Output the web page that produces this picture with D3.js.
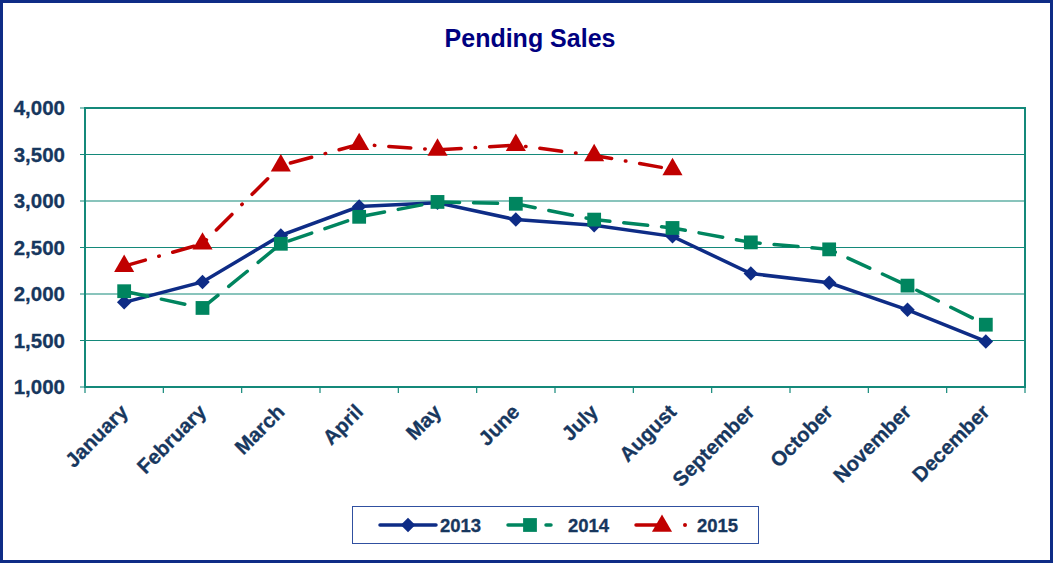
<!DOCTYPE html>
<html>
<head>
<meta charset="utf-8">
<script src="https://cdn.jsdelivr.net/npm/d3@7"></script>
<style>
  body { margin: 0; background: #fff; }
  svg { display: block; font-family: Arial, "Liberation Sans", sans-serif; }
</style>
</head>
<body>
<div id="chart"></div>
<script>
var months = ["January", "February", "March", "April", "May", "June", "July",
    "August", "September", "October", "November", "December"];
var sales2013 = [1910, 2130, 2630, 2940, 2980, 2800, 2740, 2620, 2220, 2120, 1830, 1490];
var sales2014 = [2030, 1850, 2540, 2830, 2990, 2970, 2800, 2710, 2555, 2480, 2090, 1670];
var sales2015 = [2300, 2540, 3380, 3610, 3550, 3600, 3490, 3340];
var yTicks = [1000, 1500, 2000, 2500, 3000, 3500, 4000];

var width = 1053, height = 563;
var margin = { top: 108, right: 28, bottom: 176, left: 85 };
var textColor = "#17375E", gridColor = "#14897A";

// diamond = square turned 45 degrees
var series = [
    { name: "2013", values: sales2013, color: "#0E2C86", dash: null, symbol: d3.symbolSquare, size: 105, rot: 45 },
    { name: "2014", values: sales2014, color: "#00855F", dash: "24,14", symbol: d3.symbolSquare, size: 190, rot: 0 },
    { name: "2015", values: sales2015, color: "#C00000", dash: "22,14,0.5,14", symbol: d3.symbolTriangle, size: 175, rot: 0 }
];

var svg = d3.select("#chart").append("svg")
    .attr("width", width)
    .attr("height", height);

// outer frame
svg.append("rect")
    .attr("x", 1.5).attr("y", 1.5)
    .attr("width", width - 3).attr("height", height - 3)
    .attr("fill", "none")
    .attr("stroke", "#0E2C86")
    .attr("stroke-width", 3);

svg.append("text")
    .attr("x", 530).attr("y", 47)
    .attr("text-anchor", "middle")
    .style("font-size", "25px")
    .style("font-weight", "bold")
    .attr("fill", "#000080")
    .text("Pending Sales");

var x = d3.scaleBand().domain(months).range([margin.left, width - margin.right]);
var y = d3.scaleLinear().domain([1000, 4000]).range([height - margin.bottom, margin.top]);

var g = svg.append("g");

// gridlines
g.selectAll(".grid")
    .data(yTicks)
    .join("line")
    .attr("class", "grid")
    .attr("x1", margin.left - 5).attr("x2", width - margin.right)
    .attr("y1", d => y(d)).attr("y2", d => y(d))
    .attr("stroke", gridColor)
    .attr("stroke-width", 1.2);

// plot frame
g.append("rect")
    .attr("x", margin.left).attr("y", margin.top)
    .attr("width", width - margin.left - margin.right)
    .attr("height", height - margin.top - margin.bottom)
    .attr("fill", "none")
    .attr("stroke", gridColor)
    .attr("stroke-width", 2);

// y labels
g.selectAll(".ylab")
    .data(yTicks)
    .join("text")
    .attr("class", "ylab")
    .attr("x", 65).attr("y", d => y(d))
    .attr("dy", "0.36em")
    .attr("text-anchor", "end")
    .style("font-size", "20.5px")
    .style("font-weight", "bold")
    .attr("fill", textColor)
    .attr("stroke", textColor)
    .attr("stroke-width", 0.3)
    .text(d => d3.format(",")(d));

// x ticks
var xEdges = months.map(m => x(m)).concat([x.range()[1]]);
g.selectAll(".xtick")
    .data(xEdges)
    .join("line")
    .attr("x1", d => d).attr("x2", d => d)
    .attr("y1", y(1000)).attr("y2", y(1000) + 6)
    .attr("stroke", gridColor)
    .attr("stroke-width", 1.2);

g.selectAll(".xlab")
    .data(months)
    .join("text")
    .attr("class", "xlab")
    .attr("transform", d => "translate(" + (x(d) + x.bandwidth() / 2) + "," + (y(1000) + 21) + ") rotate(-45)")
    .attr("text-anchor", "end")
    .attr("dy", "0.35em")
    .style("font-size", "20.5px")
    .style("font-weight", "bold")
    .attr("fill", textColor)
    .attr("stroke", textColor)
    .attr("stroke-width", 0.3)
    .text(d => d);

var line = d3.line()
    .x((d, i) => x(months[i]) + x.bandwidth() / 2)
    .y(d => y(d));

series.forEach(function (s) {
    var sg = g.append("g");
    sg.append("path")
        .attr("d", line(s.values))
        .attr("fill", "none")
        .attr("stroke", s.color)
        .attr("stroke-width", 3.5)
        .attr("stroke-linecap", s.dash ? "round" : "butt")
        .attr("stroke-dasharray", s.dash);
    sg.selectAll("path.mark")
        .data(s.values)
        .join("path")
        .attr("class", "mark")
        .attr("d", d3.symbol().type(s.symbol).size(s.size))
        .attr("transform", (d, i) => "translate(" + (x(months[i]) + x.bandwidth() / 2) + "," + y(d) + ") rotate(" + s.rot + ")")
        .attr("fill", s.color);
});

// legend
var legend = svg.append("g");
legend.append("rect")
    .attr("x", 352.5).attr("y", 506.5)
    .attr("width", 406).attr("height", 37)
    .attr("fill", "#fff")
    .attr("stroke", "#3050A0")
    .attr("stroke-width", 1);

var legendX = [380, 508, 636];
series.forEach(function (s, i) {
    var lx = legendX[i], ly = 525;
    var lg = legend.append("g");
    var sym = d3.symbol().type(s.symbol).size(s.size)();
    if (i === 0) {
        lg.append("line").attr("x1", lx).attr("x2", lx + 56).attr("y1", ly).attr("y2", ly)
            .attr("stroke", s.color).attr("stroke-width", 3.5).attr("stroke-linecap", "round");
        lg.append("path").attr("d", sym)
            .attr("transform", "translate(" + (lx + 28) + "," + ly + ") rotate(45)").attr("fill", s.color);
    } else if (i === 1) {
        lg.append("line").attr("x1", lx).attr("x2", lx + 22).attr("y1", ly).attr("y2", ly)
            .attr("stroke", s.color).attr("stroke-width", 3.5).attr("stroke-linecap", "round");
        lg.append("line").attr("x1", lx + 38).attr("x2", lx + 43).attr("y1", ly).attr("y2", ly)
            .attr("stroke", s.color).attr("stroke-width", 3.5).attr("stroke-linecap", "round");
        lg.append("path").attr("d", sym)
            .attr("transform", "translate(" + (lx + 22) + "," + ly + ")").attr("fill", s.color);
    } else {
        lg.append("line").attr("x1", lx).attr("x2", lx + 26).attr("y1", ly).attr("y2", ly)
            .attr("stroke", s.color).attr("stroke-width", 3.5).attr("stroke-linecap", "round");
        lg.append("circle").attr("cx", lx + 49).attr("cy", ly).attr("r", 2).attr("fill", s.color);
        lg.append("path").attr("d", sym)
            .attr("transform", "translate(" + (lx + 26) + "," + (ly + 1) + ")").attr("fill", s.color);
    }
    lg.append("text")
        .attr("x", [440, 568, 697][i]).attr("y", ly)
        .attr("dy", "0.36em")
        .style("font-size", "18.5px")
        .style("font-weight", "bold")
        .attr("fill", textColor)
        .attr("stroke", textColor)
        .attr("stroke-width", 0.3)
        .text(s.name);
});
</script>
</body>
</html>
